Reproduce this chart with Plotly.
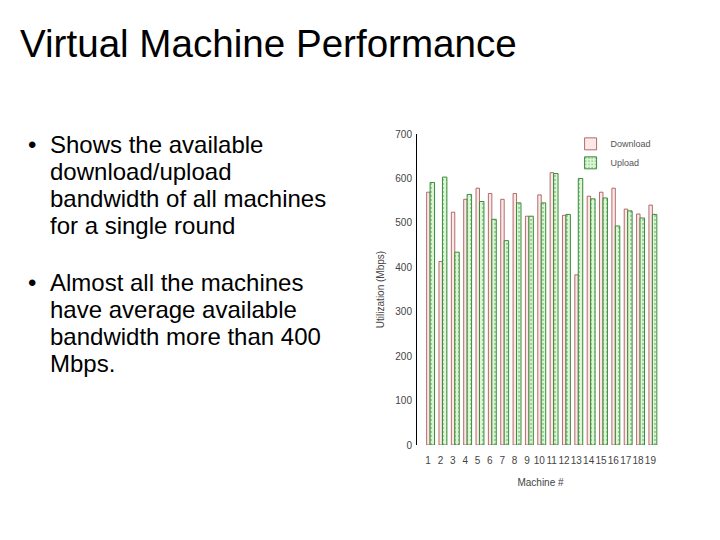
import plotly.graph_objects as go

# Machine numbers and bandwidth (Mbps)
machines = list(range(1, 20))
download = [569, 413, 524, 553, 578, 566, 553, 566, 515, 563,
            613, 517, 383, 560, 569, 578, 531, 520, 540]
upload = [591, 603, 434, 564, 548, 508, 460, 545, 515, 545,
          611, 519, 600, 554, 556, 493, 527, 511, 519]

y_ticks = [0, 100, 200, 300, 400, 500, 600, 700]
right_ticks = [100, 200, 300, 500, 600]

title_text = "Virtual Machine Performance"
bullet1 = ["Shows the available", "download/upload",
           "bandwidth of all machines", "for a single round"]
bullet2 = ["Almost all the machines", "have average available",
           "bandwidth more than 400", "Mbps."]

# the page body adds an 8px margin, so work in shifted pixels
OFF = 8
W, H = 720 - OFF, 540 - OFF
# plot area in page pixels
L, R, T, B = 417, 664, 134, 445


def px(x):
    return (x - L) / (R - L)


def py(y):
    return (B - y) / (B - T)


fig = go.Figure()
fig.add_trace(
    go.Bar(
        x=machines,
        y=download,
        name="Download",
        offset=-0.12,
        width=0.28,
        marker=dict(color="#fde8e8", line=dict(color="#a04a4a", width=0.8)),
    )
)
fig.add_trace(
    go.Bar(
        x=machines,
        y=upload,
        name="Upload",
        offset=0.16,
        width=0.36,
        marker=dict(
            color="#dcf7d5",
            line=dict(color="#3d8a3d", width=1),
            pattern=dict(shape=".", fgcolor="#5aa65a", bgcolor="#dcf7d5",
                         size=4, solidity=0.25),
        ),
    )
)

tick_font = dict(family="Liberation Sans Narrow, Liberation Sans, Arial", size=10, color="#444")

fig.update_layout(
    width=W,
    height=H,
    paper_bgcolor="white",
    plot_bgcolor="white",
    margin=dict(l=L - OFF, r=720 - R, t=T - OFF, b=540 - B, pad=0),
    barmode="overlay",
    showlegend=True,
    legend=dict(
        x=0.97, y=1.015, xanchor="right", yanchor="top",
        bgcolor="rgba(0,0,0,0)",
        font=dict(family="Liberation Sans Narrow, Liberation Sans, Arial", size=9, color="#555"),
        tracegroupgap=0, itemwidth=30,
    ),
    xaxis=dict(
        range=[0.1, 20.1],
        tickvals=machines,
        ticktext=[str(m) for m in machines],
        tickfont=tick_font,
        tickangle=0,
        ticks="",
        ticklabelstandoff=8,
        showgrid=False,
        zeroline=False,
        showline=False,
        title=dict(text="Machine #", font=tick_font, standoff=13),
    ),
    xaxis2=dict(
        overlaying="x",
        side="top",
        range=[0.1, 20.1],
        tickvals=machines,
        ticks="inside",
        ticklen=4,
        tickcolor="#333",
        showticklabels=False,
        showgrid=False,
        zeroline=False,
        showline=True,
        linecolor="black",
        linewidth=1,
    ),
    yaxis=dict(
        range=[0, 700],
        tickvals=y_ticks,
        tickfont=tick_font,
        ticks="",
        ticklabelstandoff=2,
        showgrid=False,
        zeroline=False,
        showline=True,
        linecolor="black",
        linewidth=1,
        title=dict(text="Utilization (Mbps)", font=tick_font, standoff=8),
    ),
    yaxis2=dict(
        overlaying="y",
        side="right",
        range=[0, 700],
        tickvals=right_ticks,
        ticks="outside",
        ticklen=3,
        tickcolor="black",
        showticklabels=False,
        showgrid=False,
        zeroline=False,
        showline=False,
    ),
)

text_font = dict(family="Liberation Sans, Arial", size=24, color="black")

fig.add_annotation(
    text=title_text, xref="paper", yref="paper",
    x=px(18), y=py(43), xanchor="left", yanchor="middle",
    showarrow=False,
    font=dict(family="Liberation Sans, Arial", size=38.6, color="black"),
)

for lines, y0 in [(bullet1, 144), (bullet2, 282)]:
    fig.add_annotation(
        text="•", xref="paper", yref="paper",
        x=px(26), y=py(y0), xanchor="left", yanchor="middle",
        showarrow=False, font=text_font,
    )
    for i, line in enumerate(lines):
        fig.add_annotation(
            text=line, xref="paper", yref="paper",
            x=px(48), y=py(y0 + i * 27.3), xanchor="left", yanchor="middle",
            showarrow=False, font=text_font,
        )

fig.write_html("out.html")
